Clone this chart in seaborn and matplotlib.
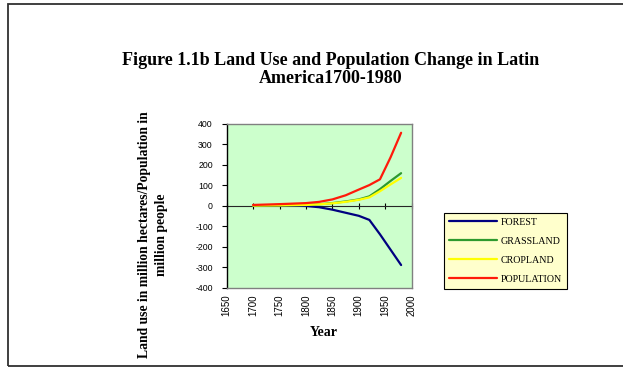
import matplotlib
matplotlib.use("Agg")
import matplotlib.pyplot as plt
from matplotlib.patches import Rectangle
import pandas as pd
import seaborn as sns

# Land use (million hectares) and population (million people), Latin America
years = [1700, 1750, 1800, 1825, 1850, 1875, 1900, 1920, 1940, 1960, 1980]
forest = [0, 0, -2, -8, -20, -35, -50, -70, -140, -215, -290]
grassland = [0, 1, 3, 6, 12, 20, 30, 45, 80, 120, 158]
cropland = [0, 1, 3, 6, 11, 18, 28, 40, 70, 103, 135]
population = [3, 7, 12, 18, 30, 50, 78, 100, 128, 235, 355]

series_names = ["FOREST", "GRASSLAND", "CROPLAND", "POPULATION"]
series_colors = ["#000080", "#2E9A2E", "#FFFF00", "#FF1A0A"]
x_ticks = list(range(1650, 2001, 50))
y_ticks = list(range(-400, 401, 100))

title = "Figure 1.1b Land Use and Population Change in Latin\nAmerica1700-1980"
x_label = "Year"
y_label = "Land use in million hectares/Population in\nmillion people"

df = pd.DataFrame({"Year": years, "FOREST": forest, "GRASSLAND": grassland,
                   "CROPLAND": cropland, "POPULATION": population})
long_df = df.melt(id_vars="Year", var_name="Series", value_name="Value")

sns.set_style("white")
plt.rcParams["font.family"] = ["Liberation Serif", "DejaVu Serif"]
plt.rcParams["text.color"] = "black"
plt.rcParams["xtick.color"] = "black"
plt.rcParams["ytick.color"] = "black"
plt.rcParams["axes.labelcolor"] = "black"

fig = plt.figure(figsize=(6.23, 3.69), dpi=100)
ax = fig.add_axes([0.3638, 0.2206, 0.2970, 0.4446])
ax.set_facecolor("#CCFFCC")

sns.lineplot(data=long_df, x="Year", y="Value", hue="Series",
             hue_order=series_names, palette=series_colors,
             linewidth=1.6, ax=ax, legend=True)

ax.set_xlim(1650, 2000)
ax.set_ylim(-400, 400)
ax.set_xticks(x_ticks)
ax.set_yticks(y_ticks)
ax.set_xticklabels([str(t) for t in x_ticks], rotation=90,
                   family="Liberation Sans", fontsize=7)
ax.set_yticklabels([str(t) for t in y_ticks], family="Liberation Sans", fontsize=6.3)
ax.tick_params(axis="x", length=0, pad=5)
ax.tick_params(axis="y", length=3.5, width=0.8, direction="out", pad=6.5,
               left=True, color="black")
ax.set_xlabel("")
ax.set_ylabel("")
for side in ["top", "right", "bottom"]:
    ax.spines[side].set_color("#808080")
    ax.spines[side].set_linewidth(1.0)
ax.spines["left"].set_color("black")
ax.spines["left"].set_linewidth(1.0)

# Horizontal category axis crossing at zero, with tick marks through it
zero_axis = ax.secondary_xaxis(0.5)
zero_axis.set_xticks(x_ticks)
zero_axis.set_xticklabels([])
zero_axis.tick_params(axis="x", direction="inout", length=5, width=0.8, color="black")
zero_axis.spines["bottom"].set_color("black")
zero_axis.spines["bottom"].set_linewidth(1.0)

handles, labels = ax.get_legend_handles_labels()
for h in handles:
    h.set_linewidth(1.6)
leg = ax.legend(handles, labels, loc="upper left",
                bbox_to_anchor=(0.7127, 0.4228), bbox_transform=fig.transFigure,
                borderaxespad=0, frameon=True, fancybox=False, shadow=False,
                handlelength=4.8, handletextpad=0.4, labelspacing=1.0,
                borderpad=0.5, prop={"family": "Liberation Serif", "size": 7.2})
leg.get_frame().set_facecolor("#FFFFCC")
leg.get_frame().set_edgecolor("black")
leg.get_frame().set_linewidth(0.8)
leg.get_frame().set_alpha(1)
for t in leg.get_texts():
    t.set_color("black")

fig.text(0.5313, 1 - 69.5 / 369, title, ha="center", va="center", fontsize=13,
         fontweight="bold", linespacing=1.05)
fig.text(0.5200, 1 - 333 / 369, x_label, ha="center", va="center",
         fontsize=10, fontweight="bold")
fig.text(153 / 623, 1 - 235 / 369, y_label, ha="center", va="center",
         rotation=90, fontsize=9.8, fontweight="bold", multialignment="center",
         linespacing=1.35)

# Outer frame of the chart
fig.patches.append(Rectangle((8 / 623, 3 / 369), 1.0, 1 - 7 / 369,
                             transform=fig.transFigure, fill=False,
                             edgecolor="#303030", linewidth=1.3))

fig.savefig("out.png", dpi=100)
